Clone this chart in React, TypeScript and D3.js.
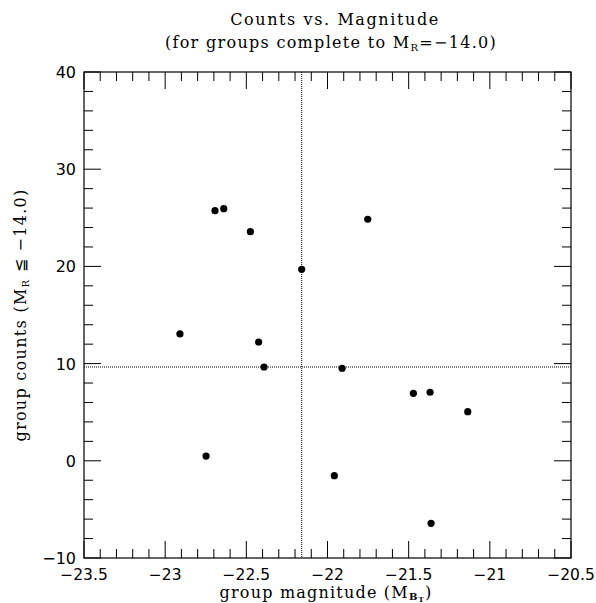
import React from "react";
import * as d3 from "d3";

const magnitudes = [-22.909, -22.693, -22.639, -22.475, -22.424, -22.391, -22.159, -21.910, -21.752, -22.748, -21.958, -21.471, -21.368, -21.136, -21.362];
const counts = [13.05, 25.73, 25.94, 23.57, 12.22, 9.65, 19.7, 9.52, 24.85, 0.49, -1.53, 6.94, 7.05, 5.05, -6.43];
const xMajorTicks = [-23.5, -23, -22.5, -22, -21.5, -21, -20.5];
const xTickLabels = ["\u221223.5", "\u221223", "\u221222.5", "\u221222", "\u221221.5", "\u221221", "\u221220.5"];
const yMajorTicks = [-10, 0, 10, 20, 30, 40];
const yTickLabels = ["\u221210", "0", "10", "20", "30", "40"];
const refMagnitude = -22.159;
const refCount = 9.65;

const W = 596, H = 603;
const L = 84, R = 571, T = 72, B = 558;

export default function App() {
  const x = d3.scaleLinear().domain([-23.5, -20.5]).range([L, R]);
  const y = d3.scaleLinear().domain([-10, 40]).range([B, T]);
  const xMinor = d3.range(0, 31).map((i) => -23.5 + i * 0.1).filter((v, i) => i % 5 !== 0);
  const yMinor = d3.range(0, 26).map((i) => -10 + i * 2).filter((v, i) => i % 5 !== 0);
  const MJ = 17, MN = 9;
  const serif = "'DejaVu Serif', 'Liberation Serif', serif";
  const sans = "'DejaVu Sans', 'Liberation Sans', sans-serif";
  return (
    <svg width={W} height={H} style={{ position: "absolute", left: 0, top: 0 }} xmlns="http://www.w3.org/2000/svg">
      <rect x={0} y={0} width={W} height={H} fill="#fff" />
      {/* title */}
      <text x={335} y={25} textAnchor="middle" fontFamily={serif} fontSize={16} letterSpacing={1.6} fill="#000">Counts vs. Magnitude</text>
      <text x={331} y={48} textAnchor="middle" fontFamily={serif} fontSize={16} letterSpacing={1.3} fill="#000">
        (for groups complete to M<tspan fontSize={10} dy={3}>R</tspan><tspan dy={-3}>=−14.0)</tspan>
      </text>
      {/* reference lines */}
      <line x1={x(refMagnitude)} x2={x(refMagnitude)} y1={T} y2={B} stroke="#000" strokeWidth={1} strokeDasharray="1,1" />
      <line x1={L} x2={R} y1={y(refCount)} y2={y(refCount)} stroke="#000" strokeWidth={1} strokeDasharray="1,1" />
      {/* frame */}
      <rect x={L} y={T} width={R - L} height={B - T} fill="none" stroke="#000" strokeWidth={1.2} />
      {/* x ticks */}
      {xMajorTicks.map((v) => (
        <g key={"xm" + v}>
          <line x1={x(v)} x2={x(v)} y1={B} y2={B - MJ} stroke="#000" />
          <line x1={x(v)} x2={x(v)} y1={T} y2={T + MJ} stroke="#000" />
        </g>
      ))}
      {xMinor.map((v, i) => (
        <g key={"xn" + i}>
          <line x1={x(v)} x2={x(v)} y1={B} y2={B - MN} stroke="#000" />
          <line x1={x(v)} x2={x(v)} y1={T} y2={T + MN} stroke="#000" />
        </g>
      ))}
      {/* y ticks */}
      {yMajorTicks.map((v) => (
        <g key={"ym" + v}>
          <line x1={L} x2={L + MJ} y1={y(v)} y2={y(v)} stroke="#000" />
          <line x1={R} x2={R - MJ} y1={y(v)} y2={y(v)} stroke="#000" />
        </g>
      ))}
      {yMinor.map((v, i) => (
        <g key={"yn" + i}>
          <line x1={L} x2={L + MN} y1={y(v)} y2={y(v)} stroke="#000" />
          <line x1={R} x2={R - MN} y1={y(v)} y2={y(v)} stroke="#000" />
        </g>
      ))}
      {/* tick labels */}
      {xMajorTicks.map((v, i) => (
        <text key={"xl" + v} x={x(v)} y={580} textAnchor="middle" fontFamily={sans} fontSize={15.5} fill="#000">{xTickLabels[i]}</text>
      ))}
      {yMajorTicks.map((v, i) => (
        <text key={"yl" + v} x={76} y={y(v) + 6} textAnchor="end" fontFamily={sans} fontSize={16} fill="#000">{yTickLabels[i]}</text>
      ))}
      {/* axis labels */}
      <text x={326} y={598} textAnchor="middle" fontFamily={serif} fontSize={16} letterSpacing={1.2} fill="#000">
        group magnitude (M<tspan fontSize={10} dy={2} fontWeight="bold">B</tspan><tspan fontSize={7} dy={2} fontWeight="bold">T</tspan><tspan dy={-4}>)</tspan>
      </text>
      <text transform={`translate(26, 315) rotate(-90)`} textAnchor="middle" fontFamily={serif} fontSize={16} letterSpacing={1.3} fill="#000">
        group counts (M<tspan fontSize={10} dy={3}>R</tspan><tspan dy={-3}> ≦ −14.0)</tspan>
      </text>
      {/* points */}
      {magnitudes.map((m, i) => (
        <circle key={"p" + i} cx={x(m)} cy={y(counts[i])} r={3.6} fill="#000" />
      ))}
    </svg>
  );
}
